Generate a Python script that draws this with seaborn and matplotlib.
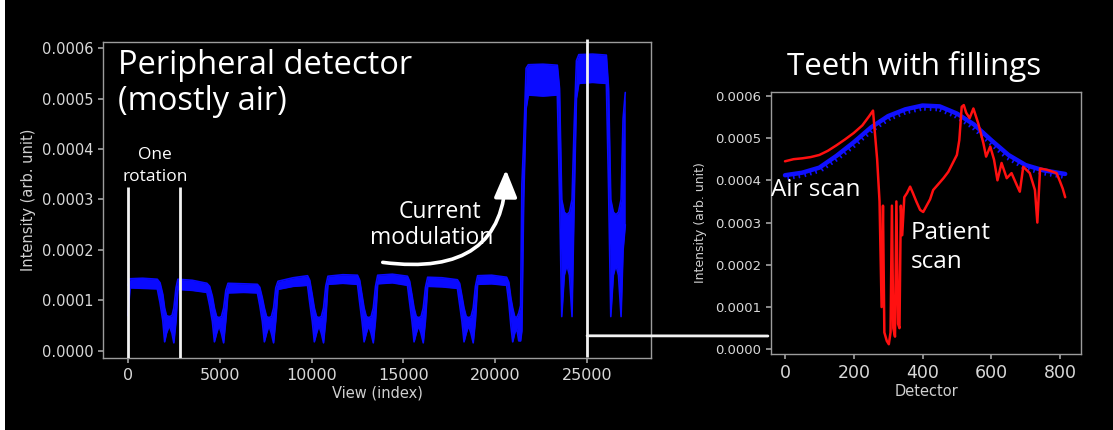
import matplotlib
matplotlib.use("Agg")
import matplotlib.pyplot as plt
import seaborn as sns
from matplotlib.patches import FancyArrowPatch, ConnectionPatch, Rectangle
from matplotlib import patheffects as pe

# ---------------- data ----------------
# Peripheral detector signal versus view index: upper and lower envelope
view = [0, 120, 800, 1600, 1750, 1900, 2000, 2100, 2250, 2400, 2500, 2620, 2720,
        3500, 4300, 4450, 4600, 4710, 4830, 4960, 5090, 5210, 5330, 5450,
        6300, 7050, 7180, 7320, 7430, 7550, 7680, 7810, 7930, 8050, 8170,
        9000, 9780, 9900, 10040, 10150, 10270, 10400, 10530, 10650, 10770, 10890,
        11700, 12500, 12620, 12750, 12860, 12980, 13110, 13240, 13360, 13480, 13600,
        14400, 15220, 15340, 15470, 15580, 15700, 15830, 15960, 16080, 16200, 16320,
        17100, 17940, 18060, 18190, 18300, 18420, 18550, 18680, 18800, 18920, 19040,
        19800, 20620, 20740, 20850, 20950, 21060, 21170, 21280, 21380,
        21450, 21550, 21680, 21800, 22600, 23380, 23500, 23620, 23760, 23900, 24040,
        24180, 24300, 24420, 24550, 25300, 26050, 26170, 26290, 26430, 26570, 26710,
        26850, 26960, 27080]
view_high = [0.000130, 0.000143, 0.000144, 0.000142, 0.000135, 0.000112, 0.000085, 0.000070, 0.000068, 0.000070, 0.000085, 0.000125, 0.000142,
             0.000140, 0.000134, 0.000128, 0.000108, 0.000085, 0.000068, 0.000066, 0.000068, 0.000085, 0.000120, 0.000134,
             0.000133, 0.000132, 0.000126, 0.000105, 0.000085, 0.000068, 0.000066, 0.000068, 0.000085, 0.000125, 0.000138,
             0.000145, 0.000149, 0.000140, 0.000110, 0.000085, 0.000068, 0.000066, 0.000068, 0.000085, 0.000128, 0.000148,
             0.000151, 0.000150, 0.000140, 0.000110, 0.000085, 0.000068, 0.000066, 0.000068, 0.000085, 0.000128, 0.000150,
             0.000152, 0.000148, 0.000138, 0.000110, 0.000085, 0.000068, 0.000066, 0.000068, 0.000085, 0.000126, 0.000146,
             0.000145, 0.000141, 0.000134, 0.000108, 0.000085, 0.000068, 0.000066, 0.000068, 0.000085, 0.000128, 0.000149,
             0.000150, 0.000146, 0.000136, 0.000105, 0.000085, 0.000068, 0.000066, 0.000075, 0.000090,
             0.000330, 0.000415, 0.000560, 0.000567, 0.000568, 0.000566, 0.000520, 0.000300, 0.000275, 0.000270, 0.000275,
             0.000300, 0.000450, 0.000575, 0.000587, 0.000588, 0.000586, 0.000520, 0.000300, 0.000275, 0.000270, 0.000275,
             0.000300, 0.000460, 0.000512]
view_low = [0.000070, 0.000125, 0.000124, 0.000123, 0.000095, 0.000060, 0.000018, 0.000035, 0.000050, 0.000035, 0.000016, 0.000060, 0.000122,
            0.000120, 0.000116, 0.000090, 0.000058, 0.000018, 0.000035, 0.000050, 0.000035, 0.000016, 0.000060, 0.000115,
            0.000116, 0.000115, 0.000090, 0.000058, 0.000018, 0.000035, 0.000050, 0.000035, 0.000016, 0.000060, 0.000122,
            0.000128, 0.000130, 0.000095, 0.000058, 0.000018, 0.000035, 0.000050, 0.000035, 0.000016, 0.000060, 0.000132,
            0.000134, 0.000132, 0.000095, 0.000058, 0.000018, 0.000035, 0.000050, 0.000035, 0.000016, 0.000060, 0.000133,
            0.000135, 0.000130, 0.000095, 0.000058, 0.000018, 0.000035, 0.000050, 0.000035, 0.000016, 0.000060, 0.000128,
            0.000127, 0.000124, 0.000092, 0.000058, 0.000018, 0.000035, 0.000050, 0.000035, 0.000016, 0.000060, 0.000132,
            0.000133, 0.000130, 0.000095, 0.000050, 0.000018, 0.000035, 0.000045, 0.000020, 0.000020,
            0.000040, 0.000300, 0.000480, 0.000507, 0.000505, 0.000507, 0.000310, 0.000068, 0.000150, 0.000170, 0.000150,
            0.000068, 0.000300, 0.000500, 0.000530, 0.000532, 0.000530, 0.000320, 0.000068, 0.000150, 0.000170, 0.000150,
            0.000068, 0.000200, 0.000250]

rotation_marks = [0, 2830]
rotation_mark_top = 0.000325
selected_view = 25000

# Detector profiles for the selected view
detector_air = [0, 50, 100, 150, 200, 250, 300, 350, 400, 450, 500, 550, 600, 650, 700, 750, 815]
air_scan = [0.000412, 0.000418, 0.000430, 0.000458, 0.000490, 0.000525, 0.000552, 0.000568, 0.000577,
            0.000575, 0.000558, 0.000532, 0.000495, 0.000460, 0.000436, 0.000424, 0.000415]

detector_patient = [0, 25, 50, 75, 100, 125, 150, 175, 200, 225, 245, 256, 268, 275, 281, 285, 289, 296,
                    302, 307, 311, 315, 320, 324, 329, 333, 337, 341, 347, 355, 364, 372, 382, 393, 402,
                    412, 422, 431, 445, 461, 475, 490, 500, 507, 514, 520, 527, 537, 548, 562, 577, 585,
                    597, 608, 618, 630, 645, 659, 674, 683, 693, 712, 727, 734, 742, 761, 780, 790, 800,
                    808, 815]
patient_scan = [0.000445, 0.000450, 0.000452, 0.000455, 0.000460, 0.000470, 0.000483, 0.000497, 0.000512,
                0.000530, 0.000552, 0.000565, 0.000450, 0.000350, 0.000100, 0.000340, 0.000040, 0.000020,
                0.000012, 0.000040, 0.000340, 0.000050, 0.000030, 0.000350, 0.000060, 0.000050, 0.000340,
                0.000270, 0.000360, 0.000370, 0.000385, 0.000370, 0.000350, 0.000330, 0.000325, 0.000340,
                0.000355, 0.000377, 0.000390, 0.000405, 0.000420, 0.000444, 0.000460, 0.000495, 0.000574,
                0.000578, 0.000560, 0.000547, 0.000570, 0.000535, 0.000488, 0.000456, 0.000480, 0.000449,
                0.000400, 0.000441, 0.000405, 0.000417, 0.000389, 0.000373, 0.000432, 0.000417, 0.000377,
                0.000300, 0.000428, 0.000425, 0.000420, 0.000417, 0.000397, 0.000380, 0.000360]

intensity_ticks = [0.0, 0.0001, 0.0002, 0.0003, 0.0004, 0.0005, 0.0006]
view_ticks = [0, 5000, 10000, 15000, 20000, 25000]
detector_ticks = [0, 200, 400, 600, 800]

# ---------------- style ----------------
W, H = 1113, 430
sns.set_theme(style="ticks", rc={
    "figure.facecolor": "black",
    "axes.facecolor": "black",
    "axes.edgecolor": "#9c9c9c",
    "axes.linewidth": 1.0,
    "xtick.color": "#9c9c9c",
    "ytick.color": "#9c9c9c",
    "xtick.labelcolor": "#d8d8d8",
    "ytick.labelcolor": "#d8d8d8",
    "axes.labelcolor": "#d0d0d0",
    "text.color": "white",
    "xtick.major.size": 3.5,
    "ytick.major.size": 3.5,
})
plt.rcParams["font.family"] = ["DejaVu Sans"]
ann_font = ["Open Sans", "DejaVu Sans"]

fig = plt.figure(figsize=(W / 100, H / 100), dpi=100)
fig.patch.set_facecolor("black")

def px_box(x0, y0, x1, y1):
    return [x0 / W, 1 - y1 / H, (x1 - x0) / W, (y1 - y0) / H]

ax1 = fig.add_axes(px_box(103, 42, 651, 358))
ax2 = fig.add_axes(px_box(771, 92, 1081, 354))

# ---------------- left panel: signal over views ----------------
blue = "#0a0aff"
ax1.fill_between(view, view_low, view_high, color=blue, lw=0, zorder=2)
sns.lineplot(x=view, y=view_high, color=blue, lw=1.2, ax=ax1, zorder=2)
sns.lineplot(x=view, y=view_low, color=blue, lw=1.2, ax=ax1, zorder=2)

ax1.set_xlim(-1356, 28480)
ax1.set_ylim(-0.000014, 0.000612)
ax1.set_xticks(view_ticks)
ax1.set_yticks(intensity_ticks)
ax1.set_yticklabels([f"{v:.4f}" for v in intensity_ticks])
ax1.tick_params(axis="x", labelsize=11.5)
ax1.tick_params(axis="y", labelsize=10.5)
ax1.set_xlabel("View (index)", fontsize=10.5, labelpad=2)
ax1.set_ylabel("Intensity (arb. unit)", fontsize=10.5, labelpad=4)

# one-rotation markers
ax1.vlines(rotation_marks, -0.000014, rotation_mark_top, color="#f2f2f2", lw=2, zorder=3)

# ---------------- right panel: detector profiles ----------------
sns.lineplot(x=detector_air, y=air_scan, color="#1010ff", lw=3.2, ax=ax2, zorder=2,
             path_effects=[pe.withTickedStroke(angle=-90, spacing=4, length=0.8, linewidth=1.2)])
sns.lineplot(x=detector_patient, y=patient_scan, color="#ff1010", lw=1.8, ax=ax2, zorder=3)

ax2.set_xlim(-40.7, 861)
ax2.set_ylim(-0.0000111, 0.000609)
ax2.set_xticks(detector_ticks)
ax2.set_yticks(intensity_ticks)
ax2.set_yticklabels([f"{v:.4f}" for v in intensity_ticks])
ax2.tick_params(axis="x", labelsize=12.5)
ax2.tick_params(axis="y", labelsize=9.5)
ax2.set_xlabel("Detector", fontsize=10.5, labelpad=2)
ax2.set_ylabel("Intensity (arb. unit)", fontsize=9, labelpad=6)

for a in (ax1, ax2):
    for s in a.spines.values():
        s.set_visible(True)
        s.set_color("#9c9c9c")

# ---------------- connector: selected view -> profile panel ----------------
ax1.vlines([selected_view], -0.000012, 0.000618, color="#f2f2f2", lw=2, zorder=4, clip_on=False)
link = ConnectionPatch(xyA=(selected_view, 0.00003), coordsA=ax1.transData,
                       xyB=(-0.01, 0.0000315), coordsB=ax2.get_yaxis_transform(),
                       color="#f2f2f2", lw=2)
fig.add_artist(link)

# ---------------- annotations ----------------
def fx(x):
    return x / W

def fy(y):
    return 1 - y / H

fig.text(fx(118), fy(66), "Peripheral detector", fontsize=23.5, family=ann_font, va="center", ha="left")
fig.text(fx(118), fy(102), "(mostly air)", fontsize=23.5, family=ann_font, va="center", ha="left")
fig.text(fx(155), fy(155), "One", fontsize=12.5, family=ann_font, va="center", ha="center")
fig.text(fx(155), fy(177), "rotation", fontsize=12.5, family=ann_font, va="center", ha="center")
fig.text(fx(440), fy(212), "Current", fontsize=16.5, family=ann_font, va="center", ha="center")
fig.text(fx(432), fy(238), "modulation", fontsize=16.5, family=ann_font, va="center", ha="center")
fig.text(fx(914), fy(67), "Teeth with fillings", fontsize=22.5, family=ann_font, va="center", ha="center")
fig.text(fx(771), fy(190), "Air scan", fontsize=17.5, family=ann_font, va="center", ha="left")
fig.text(fx(911), fy(233), "Patient", fontsize=17.5, family=ann_font, va="center", ha="left")
fig.text(fx(911), fy(262), "scan", fontsize=17.5, family=ann_font, va="center", ha="left")

arrow = FancyArrowPatch((fx(380), fy(262)), (fx(506), fy(167)), transform=fig.transFigure,
                        connectionstyle="angle3,angleA=-8,angleB=90",
                        arrowstyle="-|>,head_length=1.2,head_width=0.5", mutation_scale=14,
                        color="white", lw=2.6)
fig.add_artist(arrow)

# thin light edge on the left side of the canvas
fig.add_artist(Rectangle((0, 0), 5 / W, 1, transform=fig.transFigure, color="white", lw=0))

fig.savefig("out.png", dpi=100, facecolor="black")
